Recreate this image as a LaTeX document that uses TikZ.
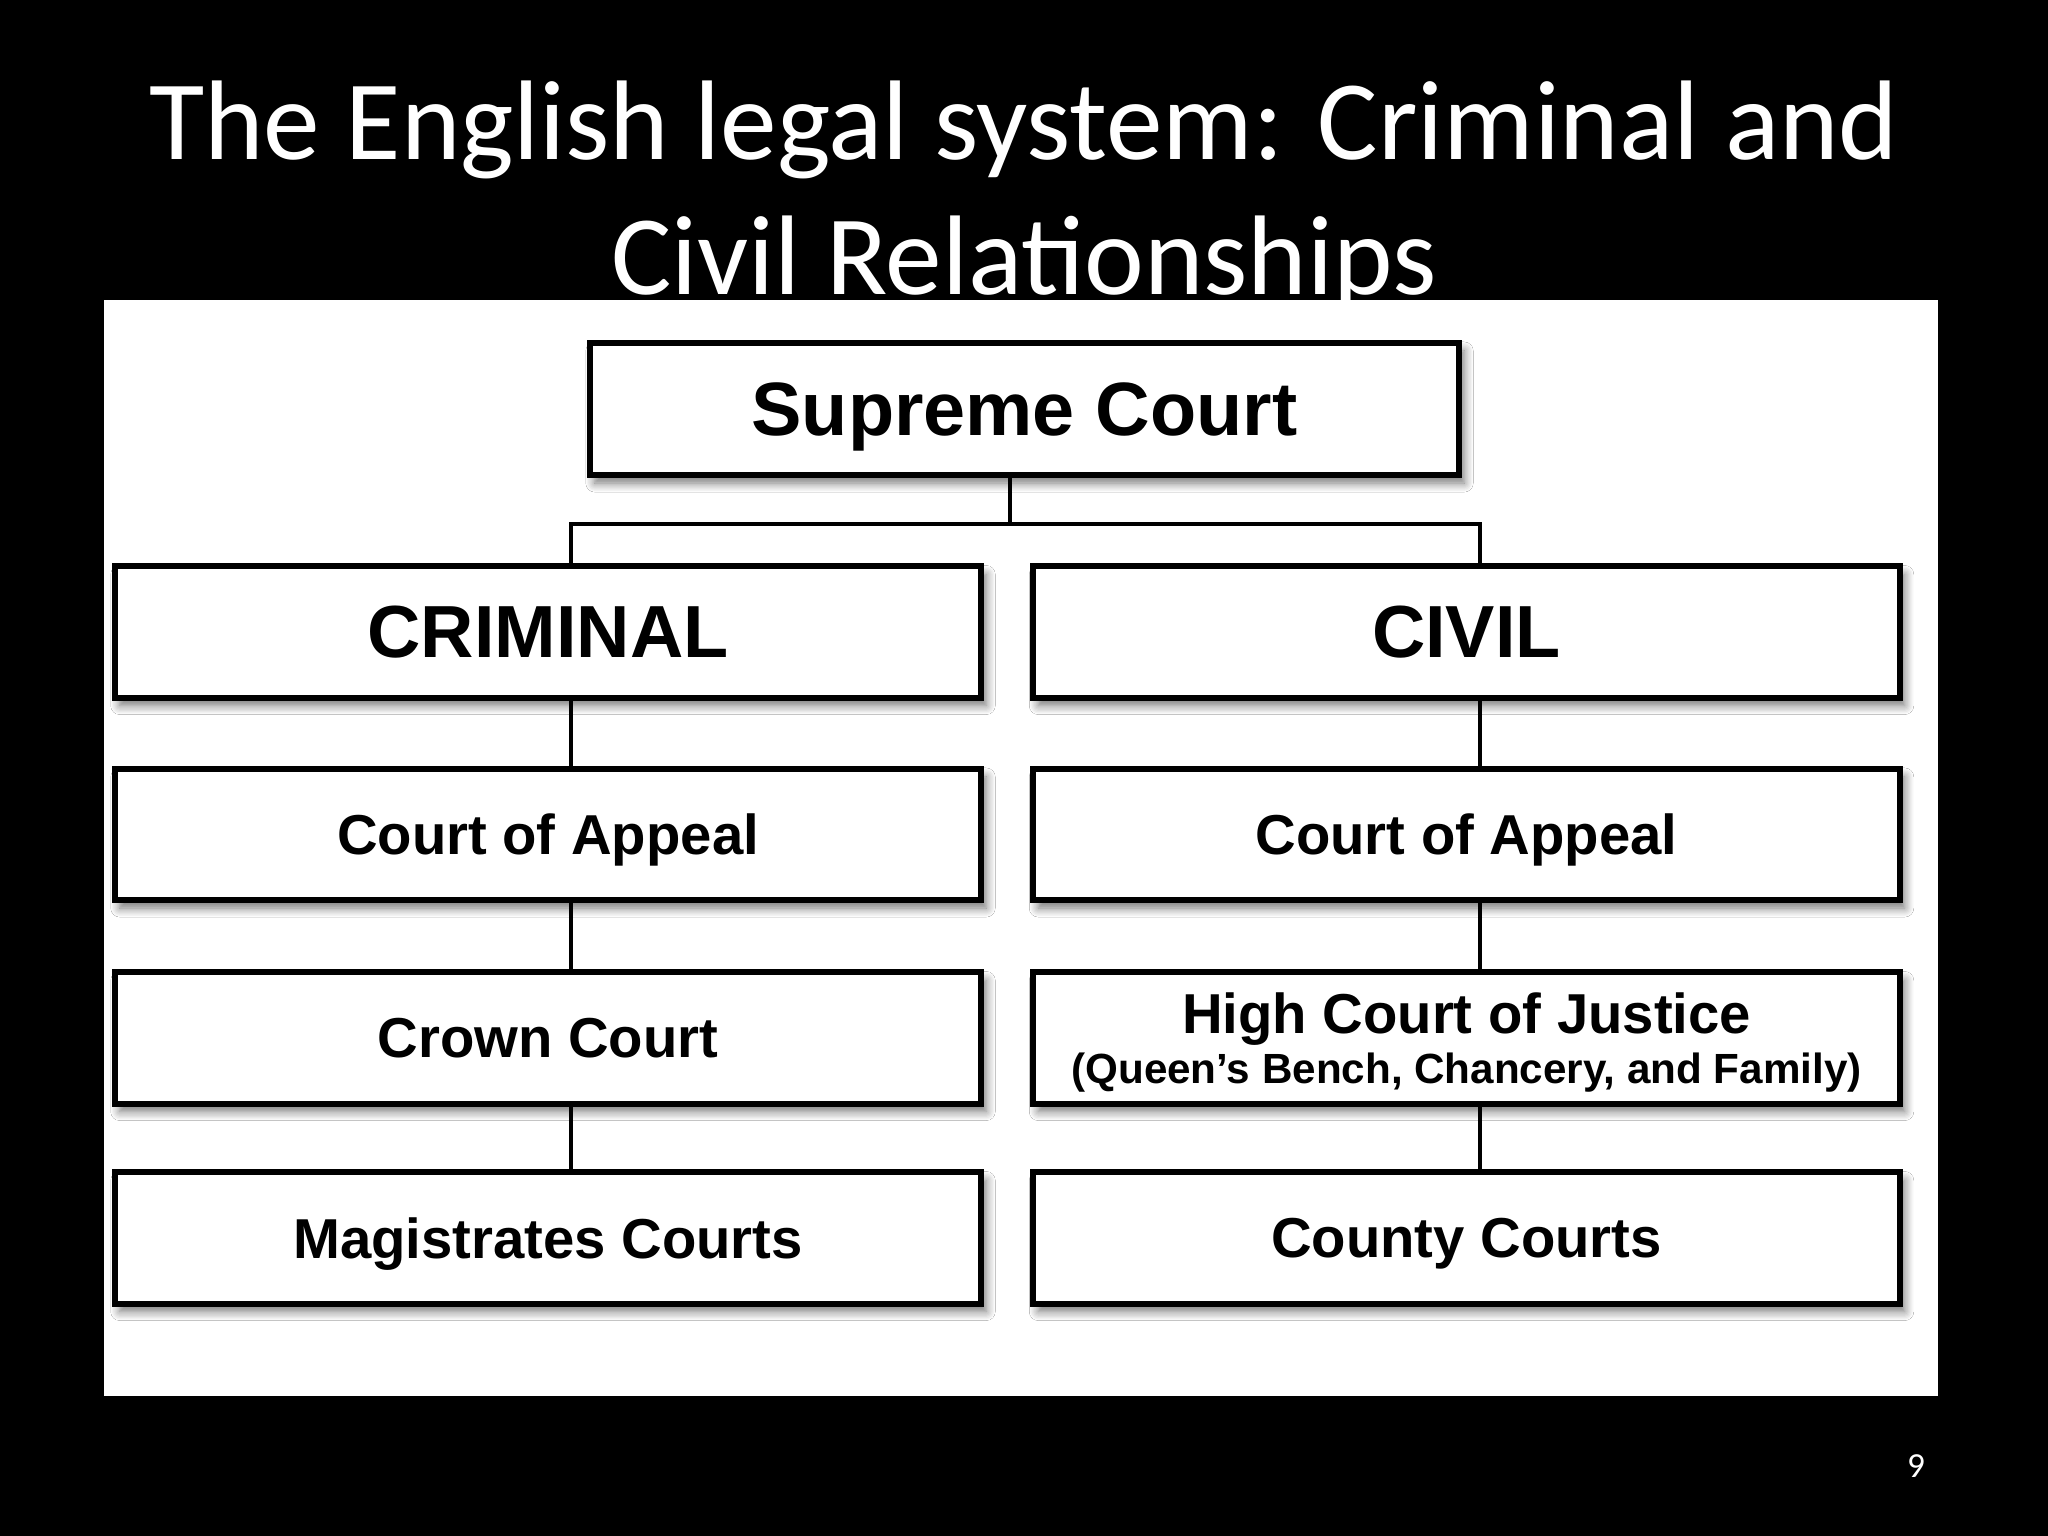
\documentclass[tikz,border=0pt]{standalone}
\usepackage{fontspec}
\setmainfont{Liberation Sans}
\newfontfamily\titlefont{Carlito}
\usetikzlibrary{shadows.blur}
\begin{document}
\begin{tikzpicture}[x=0.01cm,y=-0.01cm,
  court/.style={draw=black, line width=1.7pt, fill=white,
    minimum width=8.66cm, minimum height=1.31cm, inner sep=0pt, align=center,
    text depth=0pt,
    font=\bfseries\fontsize{16}{19}\selectfont,
    blur shadow={shadow xshift=0.05cm, shadow yshift=-0.08cm, shadow blur steps=8, shadow opacity=55, shadow blur radius=0.09cm}},
  bigcourt/.style={court, font=\bfseries\fontsize{21}{25}\selectfont},
  conn/.style={line width=1.2pt, draw=black},
  slidetitle/.style={text=white, font=\titlefont\fontsize{32.2}{38}\selectfont, inner sep=0pt, anchor=base}]
\useasboundingbox (0,0) rectangle (2048,1536);
\fill[black] (0,0) rectangle (2048,1536);
% title
\node[slidetitle] (t1) at (1024,159) {The English legal system: Criminal and};
\node[slidetitle] (t2) at (1024,294) {Civil Relationships};
% white panel
\fill[white] (104,300) rectangle (1938,1396);
% column coordinates
\coordinate (scol) at (1010,0);
\coordinate (lcol) at (571,0);
\coordinate (rcol) at (1480,0);
\coordinate (bar) at (0,524);
% boxes
\node[court, minimum width=8.69cm, minimum height=1.32cm, font=\bfseries\fontsize{21.5}{25}\selectfont] (sup) at (1024.5,409) {Supreme Court};
\node[bigcourt, yshift=-0.02cm] (crim) at (548,630) {CRIMINAL};
\node[bigcourt, yshift=-0.02cm] (civ) at (1466.5,630) {CIVIL};
\node[court] (capl) at (548,834.5) {Court of Appeal};
\node[court] (capr) at (1466.5,834.5) {Court of Appeal};
\node[court] (crown) at (548,1038) {Crown Court};
\node[court] (high) at (1466.5,1038) {High Court of Justice\\[-5pt]{\fontsize{12}{14}\selectfont (Queen’s Bench, Chancery, and Family)}};
\node[court] (mag) at (548,1238) {Magistrates Courts};
\node[court] (county) at (1466.5,1238) {County Courts};
% connectors
\draw[conn] (sup.south -| scol) -- (scol |- bar);
\draw[conn] (lcol |- crim.north) -- (lcol |- bar) -- (rcol |- bar) -- (rcol |- civ.north);
\draw[conn] (lcol |- crim.south) -- (lcol |- capl.north);
\draw[conn] (lcol |- capl.south) -- (lcol |- crown.north);
\draw[conn] (lcol |- crown.south) -- (lcol |- mag.north);
\draw[conn] (rcol |- civ.south) -- (rcol |- capr.north);
\draw[conn] (rcol |- capr.south) -- (rcol |- high.north);
\draw[conn] (rcol |- high.south) -- (rcol |- county.north);
% page number
\node[text=white, font=\titlefont\fontsize{10}{12}\selectfont, inner sep=0pt] (pg) at (1916,1466) {9};
\end{tikzpicture}
\end{document}
